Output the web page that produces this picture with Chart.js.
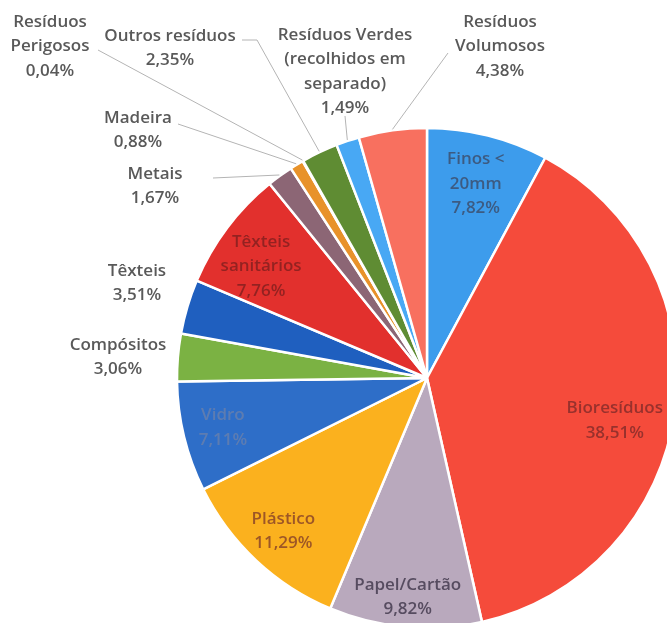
<!DOCTYPE html>
<html>
<head>
<meta charset="utf-8">
<script src="https://cdn.jsdelivr.net/npm/chart.js@4.4.1/dist/chart.umd.min.js"></script>
<style>
  html, body { margin: 0; padding: 0; background: #fff; overflow: hidden; }
  #wrap { width: 667px; height: 623px; overflow: hidden; position: relative; }
  #residuos { position: absolute; left: 0; top: 0; }
</style>
</head>
<body>
<div id="wrap"><canvas id="residuos" width="680" height="640"></canvas></div>
<script>
// composição dos resíduos (%), no sentido dos ponteiros a partir do topo
const categorias = [
  ['Finos <', '20mm'], ['Bioresíduos'], ['Papel/Cartão'], ['Plástico'], ['Vidro'],
  ['Compósitos'], ['Têxteis'], ['Têxteis', 'sanitários'], ['Metais'], ['Madeira'],
  ['Resíduos', 'Perigosos'], ['Outros resíduos'],
  ['Resíduos Verdes', '(recolhidos em', 'separado)'], ['Resíduos', 'Volumosos']
];
const percentagens = [7.82, 38.51, 9.82, 11.29, 7.11, 3.06, 3.51, 7.76, 1.67, 0.88, 0.04, 2.35, 1.49, 4.38];

const cores = [
  '#3d9cec', '#f54b3b', '#b9a9bd', '#fbb11e', '#2e6ec8', '#7bb243', '#1f5fbf',
  '#e2302d', '#8c6675', '#e8922a', '#c9a0a0', '#5f8c33', '#48a8f4', '#f8705f'
];

// rótulos dentro das fatias: índice -> [fração do raio, desvio angular (graus), cor do texto]
const internos = {
  0: [0.80, 0, 'rgba(60,70,95,0.75)'],
  1: [0.77, 5, 'rgba(120,40,40,0.75)'],
  2: [0.88, 0, 'rgba(75,65,85,0.9)'],
  3: [0.84, 0, 'rgba(140,70,40,0.85)'],
  4: [0.84, 0, 'rgba(110,130,170,0.75)'],
  7: [0.80, -3, 'rgba(120,30,30,0.75)']
};

// rótulos fora da tarte: índice -> [x, y da 1.ª linha, pontos da linha de chamada]
const externos = {
  5: [118, 345, null],
  6: [137, 271, null],
  8: [155, 174, [[213, 178]]],
  9: [138, 118, [[178, 124]]],
  10: [50, 22, [[98, 50]]],
  11: [170, 36, [[242, 40], [257, 40]]],
  12: [345, 35, [[345, 116]]],
  13: [500, 22, [[448, 53]]]
};

const fmt = v => v.toFixed(2).replace('.', ',') + '%';

const rotulos = {
  id: 'rotulos',
  afterDatasetsDraw(chart) {
    const ctx = chart.ctx;
    const arcs = chart.getDatasetMeta(0).data;
    ctx.save();
    ctx.font = '600 17px "Open Sans"';
    ctx.textAlign = 'center';
    ctx.textBaseline = 'middle';
    const linhaH = 24.5;

    arcs.forEach((arc, i) => {
      const p = arc.getProps(['x', 'y', 'startAngle', 'endAngle', 'outerRadius']);
      const meio = (p.startAngle + p.endAngle) / 2;
      const linhas = categorias[i].concat([fmt(percentagens[i])]);

      if (internos[i]) {
        const [f, desvio, cor] = internos[i];
        const a = meio + desvio * Math.PI / 180;
        const cx = p.x + Math.cos(a) * p.outerRadius * f;
        const cy = p.y + Math.sin(a) * p.outerRadius * f;
        const y0 = cy - (linhas.length - 1) * linhaH / 2;
        ctx.fillStyle = cor;
        linhas.forEach((t, k) => ctx.fillText(t, cx, y0 + k * linhaH));
      } else if (externos[i]) {
        const [x, y, chamada] = externos[i];
        ctx.fillStyle = '#595959';
        linhas.forEach((t, k) => ctx.fillText(t, x, y + k * linhaH));
        if (chamada) {
          const ex = p.x + Math.cos(meio) * (p.outerRadius + 1);
          const ey = p.y + Math.sin(meio) * (p.outerRadius + 1);
          ctx.strokeStyle = '#b4b4b4';
          ctx.lineWidth = 1;
          ctx.beginPath();
          ctx.moveTo(chamada[0][0], chamada[0][1]);
          chamada.slice(1).forEach(q => ctx.lineTo(q[0], q[1]));
          ctx.lineTo(ex, ey);
          ctx.stroke();
        }
      }
    });
    ctx.restore();
  }
};

new Chart(document.getElementById('residuos'), {
  type: 'pie',
  data: {
    labels: categorias.map(c => c.join(' ')),
    datasets: [{
      data: percentagens,
      backgroundColor: cores,
      borderColor: '#ffffff',
      borderWidth: 2.5,
      radius: 250
    }]
  },
  options: {
    responsive: false,
    animation: false,
    layout: { padding: { left: 177, right: 3, top: 128, bottom: 12 } },
    plugins: {
      legend: { display: false },
      tooltip: { enabled: false }
    }
  },
  plugins: [rotulos]
});
</script>
</body>
</html>
